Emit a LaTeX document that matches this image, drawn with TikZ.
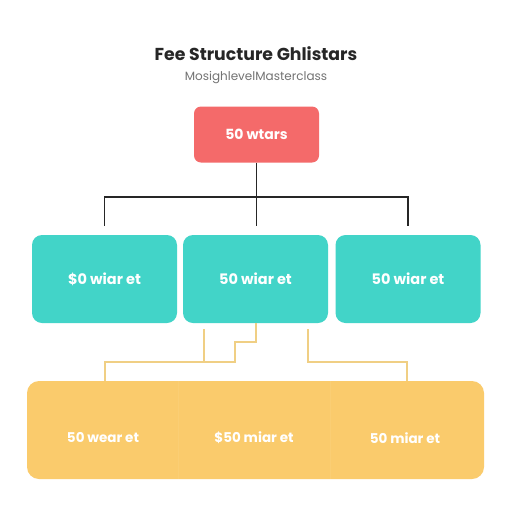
\documentclass[tikz,border=0pt]{standalone}
\usepackage{fontspec}
\setmainfont{Poppins}
\usetikzlibrary{positioning}

\definecolor{feeRed}{HTML}{F46A6A}
\definecolor{feeTeal}{HTML}{42D4C8}
\definecolor{feeGold}{HTML}{FACB6C}
\definecolor{feeLine}{HTML}{F0CF84}

\begin{document}
\begin{tikzpicture}[x=1pt, y=-1pt]

% --- Styles ---
\tikzset{
    topbox/.style={fill=feeRed, rounded corners=7pt, minimum width=125pt, minimum height=56pt,
        text=white, font=\fontsize{14}{17}\selectfont\bfseries},
    tealbox/.style={fill=feeTeal, rounded corners=10pt, minimum width=145pt, minimum height=88pt,
        text=white, font=\fontsize{14.5}{17}\selectfont\bfseries},
    goldbox/.style={fill=feeGold, rounded corners=12pt, minimum width=457pt, minimum height=98pt},
    goldtext/.style={text=white, font=\fontsize{13.5}{17}\selectfont\bfseries},
    blackline/.style={draw=black!85, line width=1.2pt},
    goldline/.style={draw=feeLine, line width=1.3pt}
}

    % Achtergrond
    \useasboundingbox[fill=white] (0,0) rectangle (512,512);

    % Titel
    \node[font=\fontsize{17.3}{20}\selectfont\bfseries, text=black!85] (title) at (256,54) {Fee Structure Ghlistars};
    \node[font=\fontsize{12}{14}\selectfont, text=black!55] (subtitle) at (256,78) {MosighlevelMasterclass};

    % Bovenste vak
    \node[topbox] (fee) at (256.5,134.5) {50 wtars};

    % Middelste rij
    \node[tealbox] (t1) at (104.5,279) {\$0 wiar et};
    \node[tealbox] (t2) at (255.5,279) {50 wiar et};
    \node[tealbox] (t3) at (408,279) {50 wiar et};

    % Onderste vak met drie delen
    \node[goldbox] (gold) at (255.5,430) {};
    \draw[draw=white, opacity=0.06, line width=0.6pt] (178,381) -- (178,479);
    \draw[draw=white, opacity=0.06, line width=0.6pt] (330,381) -- (330,479);
    \node[goldtext] (g1) at (103,438) {50 wear et};
    \node[goldtext] (g2) at (254,438) {\$50 miar et};
    \node[goldtext] (g3) at (405,438) {50 miar et};

    % Zwarte verbindingen
    \coordinate (bus) at (256.5,197);
    \draw[blackline] (fee.south) -- (bus);
    \draw[blackline, shorten >=9pt] (bus) -| (t1.north);
    \draw[blackline, shorten >=9pt] (bus) -| (t3.north);
    \draw[blackline, shorten >=9pt] (bus) -- (bus |- t2.north);

    % Gele verbindingen
    \coordinate (s1) at (204,329);
    \coordinate (s2) at (256,323);
    \coordinate (s3) at (308,329);
    \draw[goldline] (s1) -- (204,362);
    \draw[goldline] (s2) -- (256,342) -- (235,342) -- (235,362) -| (gold.north -| 105,0);
    \draw[goldline] (s3) -- (308,362) -| (gold.north -| 407,0);

\end{tikzpicture}
\end{document}
